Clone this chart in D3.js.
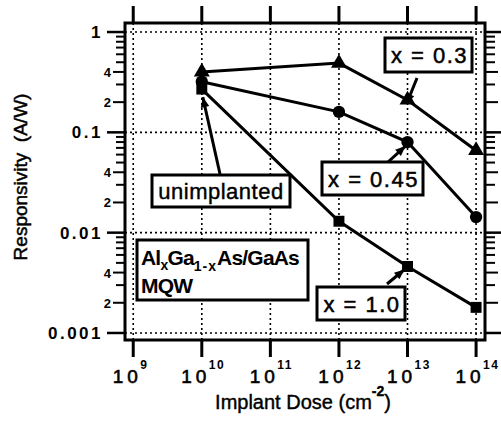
<!DOCTYPE html>
<html><head><meta charset="utf-8">
<script src="https://cdn.jsdelivr.net/npm/d3@7"></script>
<style>body{margin:0;background:#fff}svg{display:block}text{font-family:"Liberation Sans",Arial,sans-serif;fill:#000}</style>
</head><body><svg id="c" width="501" height="433"></svg>
<script>
const doses = [1e10, 1e12, 1e13, 1e14];
const x03 = [0.40, 0.49, 0.21, 0.066];
const x045 = [0.32, 0.16, 0.08, 0.0143];
const x10 = [0.27, 0.013, 0.0046, 0.0018];
const xTickExps = [9, 10, 11, 12, 13, 14];
const yTickLabels = ["1", "0.1", "0.01", "0.001"];
const yTickValues = [1, 0.1, 0.01, 0.001];

const svg = d3.select("#c");
const L = 125, R = 485, T = 23, B = 340;
const x = d3.scaleLog().domain([Math.pow(10, 8.88), Math.pow(10, 14.13)]).range([L, R]);
const y = d3.scaleLog().domain([Math.pow(10, -3.07), Math.pow(10, 0.09)]).range([B, T]);

// grid
const g = svg.append("g");
xTickExps.forEach(e => {
  g.append("line").attr("x1", x(Math.pow(10, e))).attr("x2", x(Math.pow(10, e)))
   .attr("y1", T).attr("y2", B).attr("stroke", "#000").attr("stroke-width", 1.6).attr("stroke-dasharray", "2,3");
});
yTickValues.forEach(v => {
  g.append("line").attr("x1", L).attr("x2", R).attr("y1", y(v)).attr("y2", y(v))
   .attr("stroke", "#000").attr("stroke-width", 1.6).attr("stroke-dasharray", "2,3");
});

// minor ticks
const minor = [];
[0.001, 0.01, 0.1].forEach(d => { for (let k = 2; k <= 9; k++) minor.push([d * k, k]); });
minor.forEach(([v, k]) => {
  const len = (k === 2 || k === 4) ? 12 : 9;
  svg.append("line").attr("x1", L - len).attr("x2", L).attr("y1", y(v)).attr("y2", y(v)).attr("stroke", "#000").attr("stroke-width", 2);
  svg.append("line").attr("x1", R).attr("x2", R + (len === 12 ? 13 : 10)).attr("y1", y(v)).attr("y2", y(v)).attr("stroke", "#000").attr("stroke-width", 2);
});
yTickValues.forEach((v, i) => {
  svg.append("line").attr("x1", L - 18).attr("x2", L).attr("y1", y(v)).attr("y2", y(v)).attr("stroke", "#000").attr("stroke-width", 2.5);
  svg.append("line").attr("x1", R).attr("x2", R + 16).attr("y1", y(v)).attr("y2", y(v)).attr("stroke", "#000").attr("stroke-width", 2.5);
  svg.append("text").attr("x", L - 22).attr("y", y(v) + 6).attr("text-anchor", "end")
    .attr("font-size", 17).attr("font-weight", "bold").attr("letter-spacing", 2.5).text(yTickLabels[i]);
});
[0.001, 0.01, 0.1].forEach(d => {
  [2, 4].forEach(k => {
    svg.append("text").attr("x", L - 14).attr("y", y(d * k) + 5).attr("text-anchor", "end")
      .attr("font-size", 13).attr("font-weight", "bold").text(k);
  });
});

// top/bottom ticks
xTickExps.forEach(e => {
  const xx = x(Math.pow(10, e));
  svg.append("line").attr("x1", xx).attr("x2", xx).attr("y1", T).attr("y2", 6).attr("stroke", "#000").attr("stroke-width", 3);
  svg.append("line").attr("x1", xx).attr("x2", xx).attr("y1", B).attr("y2", B + 17).attr("stroke", "#000").attr("stroke-width", 3);
  svg.append("text").attr("x", xx - 6).attr("y", 383).attr("text-anchor", "middle")
    .attr("font-size", 19).attr("letter-spacing", 4).attr("stroke", "#000").attr("stroke-width", 0.6).text("10");
  svg.append("text").attr("x", xx + 7).attr("y", 369).attr("text-anchor", "start")
    .attr("font-size", 12).attr("font-weight", "bold").attr("letter-spacing", 1.5).text(e);
});

// frame
svg.append("rect").attr("x", L).attr("y", T).attr("width", R - L).attr("height", B - T)
  .attr("fill", "none").attr("stroke", "#000").attr("stroke-width", 3);

// axis titles
const xt = svg.append("text").attr("x", 303).attr("y", 409).attr("text-anchor", "middle").attr("font-size", 20).attr("stroke", "#000").attr("stroke-width", 0.4);
xt.append("tspan").text("Implant Dose (cm");
xt.append("tspan").attr("dy", -13).attr("font-size", 14).attr("font-weight", "bold").text("-2");
xt.append("tspan").attr("dy", 13).text(")");
svg.append("text").attr("transform", "translate(27,177) rotate(-90)").attr("text-anchor", "middle")
  .attr("font-size", 19).attr("stroke", "#000").attr("stroke-width", 0.5).attr("xml:space", "preserve").text("Responsivity  (A/W)");

// series
const line = d3.line().x(d => x(d[0])).y(d => y(d[1]));
const series = [[x03, "triangle"], [x045, "diamond"], [x10, "square"]];
series.forEach(([vals]) => {
  svg.append("path").attr("d", line(doses.map((d, i) => [d, vals[i]])))
    .attr("fill", "none").attr("stroke", "#000").attr("stroke-width", 3);
});
const sym = { triangle: d3.symbolTriangle, diamond: d3.symbolCircle, square: d3.symbolSquare };
const sz = { triangle: 110, diamond: 120, square: 120 };
series.forEach(([vals, s]) => {
  doses.forEach((d, i) => {
    svg.append("path").attr("d", d3.symbol().type(sym[s]).size(sz[s])())
      .attr("transform", `translate(${x(d)},${y(vals[i])})`).attr("fill", "#000");
  });
});

// annotation boxes
function box(x0, y0, w, h) {
  svg.append("rect").attr("x", x0).attr("y", y0).attr("width", w).attr("height", h)
    .attr("fill", "#fff").attr("stroke", "#000").attr("stroke-width", 3);
}
function arrow(x1, y1, x2, y2) {
  svg.append("line").attr("x1", x1).attr("y1", y1).attr("x2", x2).attr("y2", y2).attr("stroke", "#000").attr("stroke-width", 3);
  const a = Math.atan2(y2 - y1, x2 - x1), l = 11, w = 0.4;
  svg.append("path").attr("d", `M${x2},${y2}L${x2 - l * Math.cos(a - w)},${y2 - l * Math.sin(a - w)}L${x2 - l * Math.cos(a + w)},${y2 - l * Math.sin(a + w)}Z`).attr("fill", "#000");
}
arrow(417, 78, x(1e13) - 1, y(x03[2]) + 4);
arrow(388, 162, x(1e13) - 2, y(x045[2]) + 4);
arrow(387, 284, x(1e13) - 3, y(x10[2]) + 3);
arrow(220, 174, x(1e10) + 1, y(0.27) + 8);

function label(tx, ty, s) {
  svg.append("text").attr("x", tx).attr("y", ty).attr("text-anchor", "middle").attr("font-size", 22)
    .attr("letter-spacing", 1.5).attr("stroke", "#000").attr("stroke-width", 0.5).attr("xml:space", "preserve").text(s);
}
box(385, 38, 87, 34);
label(429.5, 63, "x = 0.3");
box(322, 162, 101, 33);
label(373.5, 187, "x = 0.45");
box(317, 287, 88, 33);
label(362, 312, "x = 1.0");
box(152, 175, 138, 32);
svg.append("text").attr("x", 221).attr("y", 199).attr("text-anchor", "middle").attr("font-size", 22)
  .attr("letter-spacing", 0.5).attr("stroke", "#000").attr("stroke-width", 0.4).text("unimplanted");
box(137, 240, 171, 60);
const t1 = svg.append("text").attr("x", 141).attr("y", 265).attr("font-size", 21).attr("letter-spacing", -0.8).attr("font-weight", "bold");
t1.append("tspan").text("Al");
t1.append("tspan").attr("dy", 5).attr("font-size", 14).text("x");
t1.append("tspan").attr("dy", -5).text("Ga");
t1.append("tspan").attr("dy", 6).attr("font-size", 14).attr("letter-spacing", 1).text("1-x");
t1.append("tspan").attr("dy", -6).text("As/GaAs");
svg.append("text").attr("x", 141).attr("y", 293).attr("font-size", 21).attr("letter-spacing", -0.8).attr("font-weight", "bold").text("MQW");
</script></body></html>
